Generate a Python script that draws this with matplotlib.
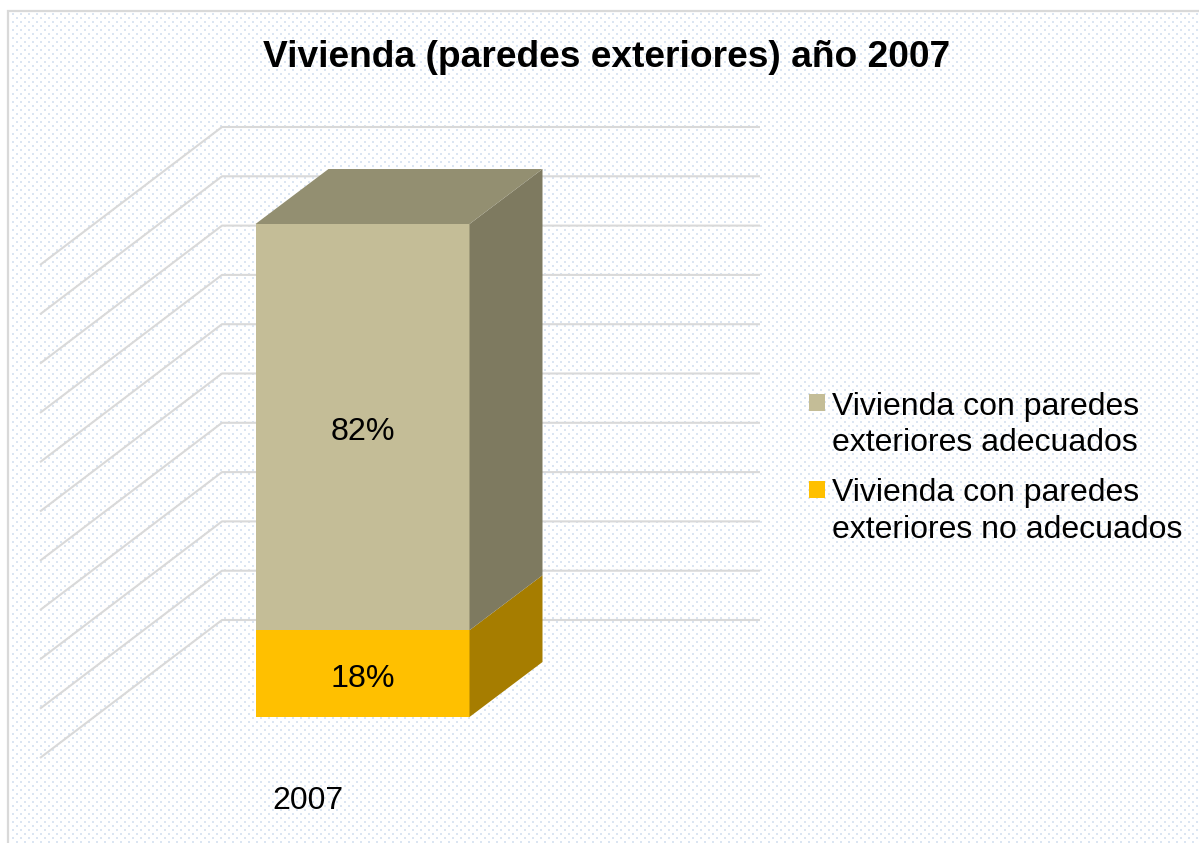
import matplotlib
matplotlib.use('Agg')
import matplotlib.pyplot as plt
import numpy as np
from matplotlib.patches import Polygon, Rectangle

# values in percent, labels are rounded from them
series_names = ['Vivienda con paredes\nexteriores no adecuados',
                'Vivienda con paredes\nexteriores adecuados']
series_values = [17.6, 82.4]
series_front = ['#ffc000', '#c4bd97']
series_side = ['#a67d00', '#7e7a60']
top_color = '#938f71'
category = '2007'
grid_values = list(range(0, 101, 10))
title = 'Vivienda (paredes exteriores) año 2007'

W, H = 1199, 843
PX = 4.93  # pixels per percent
Y0 = 717   # pixel row of 0%

plt.rcParams['font.family'] = ['Liberation Sans', 'DejaVu Sans']

fig = plt.figure(figsize=(W / 100, H / 100), dpi=100)
fig.patch.set_facecolor('white')

# dotted chart background
bg = fig.add_axes([0, 0, 1, 1])
pattern = np.ones((H, W, 3))
dot = np.array([0.86, 0.90, 0.95])
for row in range(13, H, 4):
    shift = 0 if (row - 13) % 8 == 0 else 4
    for col in range(12 + shift - 8, W, 8):
        if col >= 10:
            pattern[row:row + 2, col:col + 2] = dot
pattern[:12, :] = 1
pattern[:, :9] = 1
bg.imshow(pattern, extent=(0, W, H, 0), interpolation='nearest', aspect='auto')
bg.set_xlim(0, W)
bg.set_ylim(H, 0)
bg.axis('off')
bg.plot([7.5, 7.5, W], [H, 11, 11], color='#d9d9d9', lw=1.6, solid_joinstyle='miter')

# chart axes: x in pixels, y in percent
ax = fig.add_axes([0, 0, 1, 1])
ax.patch.set_alpha(0)
ax.set_xlim(0, W)
ax.set_ylim(-(H - Y0) / PX, Y0 / PX)
ax.axis('off')

wall_rise = 97 / PX
wall_drop = 138 / PX
for v in grid_values:
    back = v + wall_rise
    ax.plot([40, 222, 760], [back - wall_drop, back, back], color='#d9d9d9', lw=1.5,
            solid_capstyle='butt', zorder=1)

# stacked 3d bar
x0, x1 = 255.5, 469.5
dx = 73
rise = 55 / PX
bottom = 0
for value, front, side in zip(series_values, series_front, series_side):
    top = bottom + value
    ax.bar((x0 + x1) / 2, value, width=x1 - x0, bottom=bottom, color=front, zorder=3)
    ax.add_patch(Polygon([(x1, bottom), (x1 + dx, bottom + rise), (x1 + dx, top + rise), (x1, top)],
                         closed=True, facecolor=side, edgecolor='none', zorder=3))
    ax.text((x0 + x1) / 2, bottom + value * 0.5 - 1.0, '{:.0f}%'.format(value), fontsize=23.2,
            ha='center', va='center', color='black', zorder=4)
    bottom = top
ax.add_patch(Polygon([(x0, bottom), (x0 + dx, bottom + rise), (x1 + dx, bottom + rise), (x1, bottom)],
                     closed=True, facecolor=top_color, edgecolor='none', zorder=3))

bg.text(308, 801, category, fontsize=23, ha='center', va='center', color='black', zorder=5)
bg.text(607, 57.5, title, fontsize=26.75, fontweight='bold', ha='center', va='center', color='black', zorder=5)

# legend, upper entry first as in the stack
legend_rows = [(394, 451), (481, 537.5)]
for (box_y, base_y), name, color in zip(legend_rows, series_names[::-1], series_front[::-1]):
    bg.add_patch(Rectangle((809, box_y), 16, 16.5, facecolor=color, edgecolor='none', zorder=5))
    bg.text(832, base_y, name, fontsize=23, ha='left', va='baseline', color='black',
            linespacing=1.27, zorder=5)

fig.savefig('out.png', dpi=100)
